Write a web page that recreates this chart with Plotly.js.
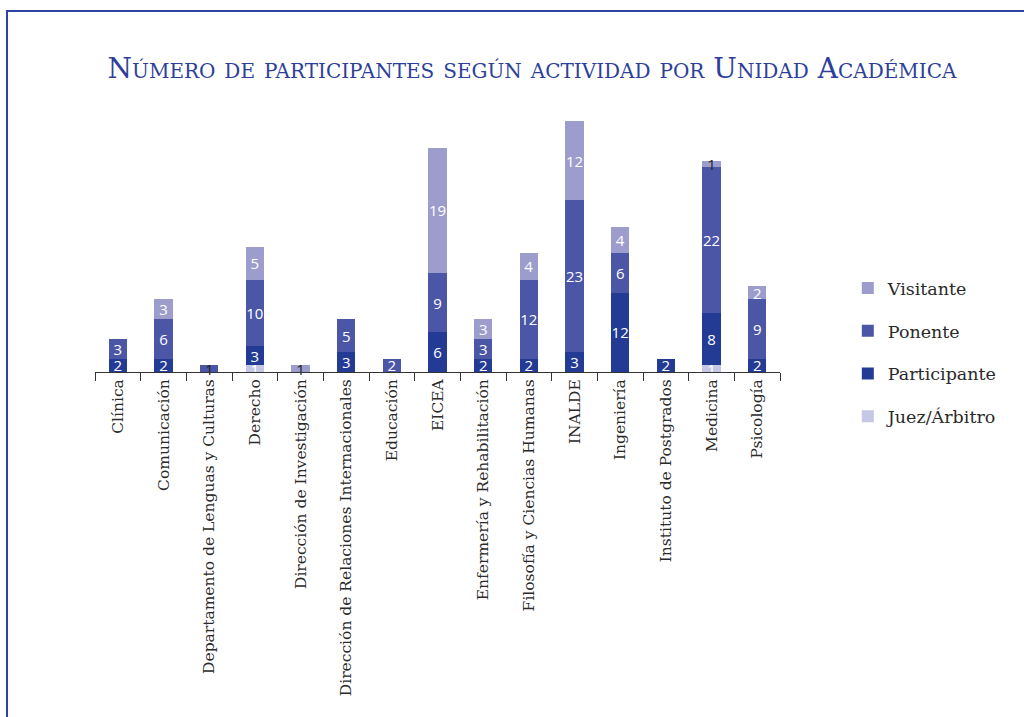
<!DOCTYPE html>
<html>
<head>
<meta charset="utf-8">
<script src="https://cdn.plot.ly/plotly-3.0.1.min.js"></script>
<style>
  html, body { margin: 0; padding: 0; background: #fff; }
  #wrap { position: relative; width: 1024px; height: 717px; overflow: hidden; }
  #frame { position: absolute; left: 6px; top: 10px; width: 1030px; height: 720px;
           border-top: 2px solid #2f43a0; border-left: 2px solid #2f43a0; box-sizing: border-box; pointer-events: none; }
  #chart { position: absolute; left: 0; top: 0; width: 1024px; height: 717px; }
</style>
</head>
<body>
<div id="wrap">
  <div id="chart"></div>
  <div id="frame"></div>
</div>
<script>
const categories = [
  "Clínica", "Comunicación", "Departamento de Lenguas y Culturas", "Derecho",
  "Dirección de Investigación", "Dirección de Relaciones Internacionales", "Educación",
  "EICEA", "Enfermería y Rehabilitación", "Filosofía y Ciencias Humanas", "INALDE",
  "Ingeniería", "Instituto de Postgrados", "Medicina", "Psicología"
];
const juez         = [null, null, null, 1, null, null, null, null, null, null, null, null, null, 1, null];
const participante = [2, 2, null, 3, null, 3, null, 6, 2, 2, 3, 12, 2, 8, 2];
const ponente      = [3, 6, 1, 10, null, 5, 2, 9, 3, 12, 23, 6, null, 22, 9];
const visitante    = [null, 3, null, 5, 1, null, null, 19, 3, 4, 12, 4, null, 1, 2];

const seriesNames = ["Juez/Árbitro", "Participante", "Ponente", "Visitante"];
const seriesData = [juez, participante, ponente, visitante];
const seriesColors = ["#c6c7e4", "#233b95", "#4b56a7", "#9c9dcd"];

function isTop(si, i) {
  for (let k = si + 1; k < seriesData.length; k++) {
    if (seriesData[k][i] != null) return false;
  }
  return true;
}

const traces = seriesData.map((vals, si) => ({
  type: "bar",
  name: seriesNames[si],
  x: categories,
  y: vals,
  text: vals.map(v => v == null ? "" : String(v)),
  textposition: "inside",
  insidetextanchor: "middle",
  textangle: 0,
  constraintext: "none",
  cliponaxis: false,
  textfont: {
    family: "Open Sans, Liberation Sans, sans-serif",
    size: 15,
    color: vals.map((v, i) => (v === 1 && isTop(si, i)) ? "#222222" : "#ffffff")
  },
  marker: { color: seriesColors[si], line: { width: 0 } },
  legendgroup: "g" + si,
  legendrank: 1000 - si * 100,
  hoverinfo: "x+y+name"
}));

const layout = {
  width: 1024,
  height: 717,
  paper_bgcolor: "rgba(0,0,0,0)",
  plot_bgcolor: "rgba(0,0,0,0)",
  barmode: "stack",
  bargap: 0.6,
  margin: { l: 95, r: 244, t: 108, b: 345, pad: 0 },
  title: {
    text: "Número de participantes según actividad por Unidad Académica",
    x: 532 / 1024, xanchor: "center", xref: "container",
    y: 1 - 68 / 717, yref: "container", yanchor: "middle",
    font: { family: "DejaVu Serif, serif", size: 28, color: "#2e3f9b", variant: "small-caps" }
  },
  uniformtext: { mode: "show", minsize: 15 },
  xaxis: {
    type: "category",
    showline: true, linecolor: "#333333", linewidth: 1,
    ticks: "outside", tickson: "boundaries", ticklen: 8, tickcolor: "#333333", tickwidth: 1,
    tickangle: -90,
    tickfont: { family: "DejaVu Serif, serif", size: 15.5, color: "#2a2a2a" },
    showgrid: false, zeroline: false,
    fixedrange: true
  },
  yaxis: {
    range: [0, 40],
    visible: false,
    showgrid: false, zeroline: false, showticklabels: false,
    fixedrange: true
  },
  showlegend: true,
  legend: {
    traceorder: "grouped",
    x: 1.099, xanchor: "left",
    y: 0.386, yanchor: "top",
    tracegroupgap: 17,
    font: { family: "DejaVu Serif, serif", size: 17.5, color: "#2a2a2a" },
    bgcolor: "rgba(0,0,0,0)"
  }
};

Plotly.newPlot("chart", traces, layout, { displayModeBar: false, staticPlot: true });
</script>
</body>
</html>
